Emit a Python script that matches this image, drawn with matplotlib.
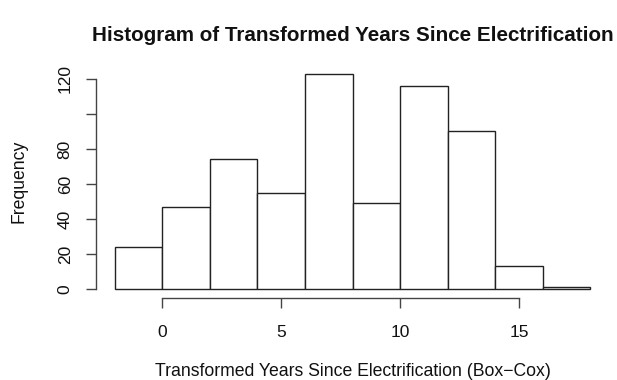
import numpy as np
import matplotlib.pyplot as plt

# Box-Cox transformed years since electrification, binned in steps of 2
bin_edges = [-2, 0, 2, 4, 6, 8, 10, 12, 14, 16, 18]
counts = [24, 47, 74, 55, 123, 49, 116, 90, 13, 1]
x_ticks = [0, 5, 10, 15]
y_ticks = [0, 20, 40, 60, 80, 100, 120]
# the 100 label is dropped, as the base graphics device does when labels crowd
y_tick_labels = ['0', '20', '40', '60', '80', '', '120']

plt.rcParams['font.family'] = ['Liberation Sans', 'DejaVu Sans']

fig = plt.figure(figsize=(6.17, 3.80), dpi=100)
ax = fig.add_axes([0.155, 0.2168, 0.8327, 0.6119])

edges = np.array(bin_edges, dtype=float)
ax.bar(edges[:-1], counts, width=np.diff(edges), align='edge',
       facecolor='white', edgecolor='#222222', linewidth=1.0)

span = edges[-1] - edges[0]
ax.set_xlim(edges[0] - 0.04 * span, edges[-1] + 0.04 * span)
ymax = max(counts)
ax.set_ylim(-0.04 * ymax, ymax * 1.04)

for side in ('top', 'right'):
    ax.spines[side].set_visible(False)
ax.spines['left'].set_bounds(y_ticks[0], y_ticks[-1])
ax.spines['bottom'].set_bounds(x_ticks[0], x_ticks[-1])
for side in ('left', 'bottom'):
    ax.spines[side].set_color('#444444')
    ax.spines[side].set_linewidth(1.0)

ax.set_xticks(x_ticks)
ax.set_yticks(y_ticks)
ax.set_yticklabels(y_tick_labels, rotation=90, va='center')
ax.tick_params(axis='both', length=7.5, width=1.0, color='#444444',
               labelsize=12.5, labelcolor='#111111')
ax.tick_params(axis='x', pad=12)
ax.tick_params(axis='y', pad=9)

ax.set_xlabel('Transformed Years Since Electrification (Box\u2212Cox)',
              fontsize=12.7, labelpad=17, color='#111111')
ax.set_ylabel('Frequency', fontsize=12.7, labelpad=22, color='#111111')
ax.set_title('Histogram of Transformed Years Since Electrification',
             fontsize=14.9, fontweight='bold', pad=17, color='#111111')

fig.savefig('out.png', dpi=100)
